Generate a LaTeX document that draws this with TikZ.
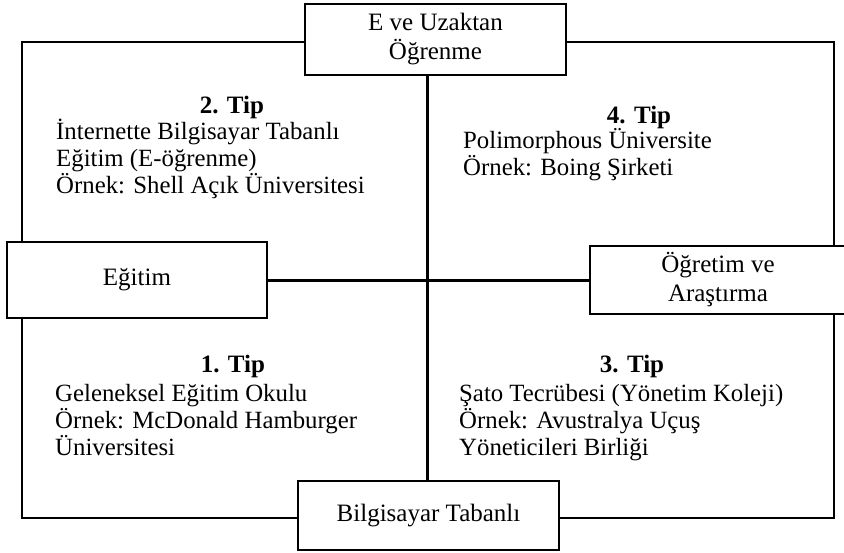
\documentclass[tikz,border=0pt]{standalone}
\usepackage{fontspec}
\setmainfont{Liberation Serif}
\usepackage{tikz}
\usetikzlibrary{positioning}

\tikzset{
  kutu/.style={draw, line width=1.6pt, fill=white, align=center,
    font=\fontsize{25}{29}\selectfont, inner sep=0pt},
  baslik/.style={anchor=base, inner sep=0pt, font=\fontsize{25}{27}\selectfont\bfseries},
  metin/.style={anchor=base west, align=left, inner sep=0pt,
    font=\fontsize{24.8}{26.8}\selectfont},
  eksen/.style={line width=3pt},
  cerceve/.style={line width=1.4pt}
}

\begin{document}
\begin{tikzpicture}[x=1pt,y=-1pt]
\useasboundingbox (0,0) rectangle (844,552);
% outer frame
\draw [cerceve] (22,42) rectangle (834,518);
% boxes
\node[kutu, minimum width=261pt, minimum height=71pt] (ust) at (435.5,39.5) {E ve Uzaktan\\Öğrenme};
\node[kutu, minimum width=260pt, minimum height=76pt] (sol) at (137,280) {Eğitim};
\node[kutu, minimum width=256pt, minimum height=68pt] (sag) at (718,280) {Öğretim ve\\Araştırma};
\node[kutu, minimum width=261pt, minimum height=69pt] (alt) at (428.5,515.5) {Bilgisayar Tabanlı};
% axes
\draw [eksen] (ust.south -| 427,0) -- (alt.north -| 427,0);
\draw [eksen] (sol.east) -- (sag.west);
% quadrant texts (base = last line)
\node[baslik] (tip2) at (232,113) {2. Tip};
\node[metin] (tip2m) at (56,193) {İnternette Bilgisayar Tabanlı\\Eğitim (E-öğrenme)\\Örnek: Shell Açık Üniversitesi};
\node[baslik] (tip4) at (639,123) {4. Tip};
\node[metin] (tip4m) at (463,175) {Polimorphous Üniversite\\Örnek: Boing Şirketi};
\node[baslik] (tip1) at (233,372) {1. Tip};
\node[metin] (tip1m) at (55,455) {Geleneksel Eğitim Okulu\\Örnek: McDonald Hamburger\\Üniversitesi};
\node[baslik] (tip3) at (632,372) {3. Tip};
\node[metin] (tip3m) at (459,455) {Şato Tecrübesi (Yönetim Koleji)\\Örnek: Avustralya Uçuş\\Yöneticileri Birliği};
\end{tikzpicture}
\end{document}
